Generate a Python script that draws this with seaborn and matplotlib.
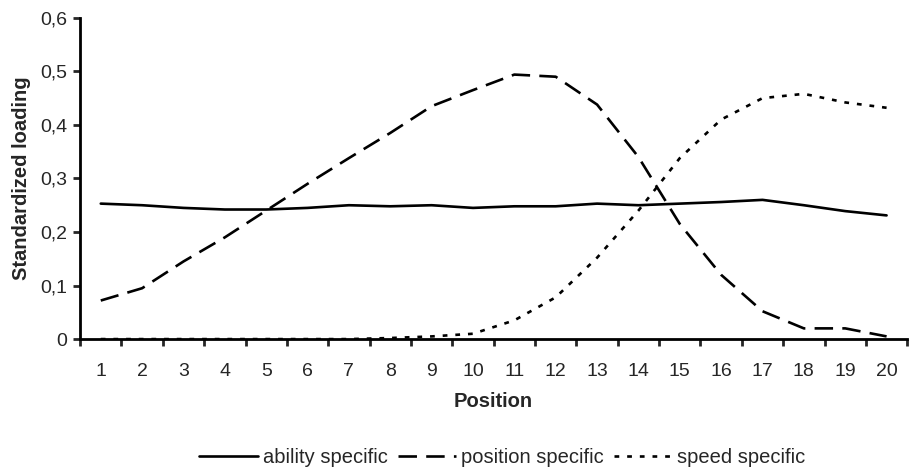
import numpy as np
import pandas as pd
import matplotlib
matplotlib.use('Agg')
import matplotlib.pyplot as plt
import seaborn as sns
from matplotlib.ticker import FuncFormatter, MultipleLocator

positions = list(range(1, 21))
ability = [0.253, 0.250, 0.245, 0.242, 0.242, 0.245, 0.250, 0.248, 0.250, 0.245,
           0.248, 0.248, 0.253, 0.250, 0.253, 0.256, 0.260, 0.250, 0.239, 0.231]
position_spec = [0.072, 0.095, 0.145, 0.190, 0.240, 0.290, 0.338, 0.385, 0.435, 0.465,
                 0.494, 0.490, 0.438, 0.340, 0.215, 0.120, 0.052, 0.020, 0.020, 0.005]
speed = [0.0, 0.0, 0.0, 0.0, 0.0, 0.0, 0.0, 0.002, 0.005, 0.010,
         0.035, 0.078, 0.152, 0.240, 0.338, 0.410, 0.450, 0.458, 0.442, 0.432]
series_names = ['ability specific', 'position specific', 'speed specific']

df = pd.DataFrame({
    'Position': positions * 3,
    'loading': ability + position_spec + speed,
    'series': [s for s in series_names for _ in positions],
})

sns.set_style('white')
plt.rcParams['font.family'] = ['Liberation Sans', 'DejaVu Sans']

fig = plt.figure(figsize=(9.1, 4.69), dpi=100)
ax = fig.add_axes([0.088, 0.277, 0.909, 0.685])

dashes = {'ability specific': '', 'position specific': (7, 3.5), 'speed specific': (1.8, 3)}
sns.lineplot(data=df, x='Position', y='loading', hue='series', style='series',
             palette=['black'] * 3, dashes=dashes, linewidth=1.9, ax=ax, legend=False)

ax.set_xlim(0.5, 20.5)
ax.set_ylim(0, 0.6)
ax.set_xticks(positions)
ax.set_xticks(np.arange(0.5, 21, 1), minor=True)
ax.tick_params(axis='x', which='major', length=0, pad=17, labelsize=14)
ax.tick_params(axis='x', which='minor', length=5, width=2, direction='out', bottom=True)
ax.yaxis.set_major_locator(MultipleLocator(0.1))
ax.yaxis.set_major_formatter(FuncFormatter(lambda v, p: '0' if abs(v) < 1e-9 else f'{v:.1f}'.replace('.', ',')))
ax.tick_params(axis='y', length=5, width=2, direction='out', left=True, labelsize=14, pad=4)

for side in ['top', 'right']:
    ax.spines[side].set_visible(False)
for side in ['left', 'bottom']:
    ax.spines[side].set_linewidth(2)
    ax.spines[side].set_color('black')

ax.set_xlabel('Position', fontsize=14.5, fontweight='bold', labelpad=9)
ax.set_ylabel('Standardized loading', fontsize=14.5, fontweight='bold', labelpad=7)

handles = ax.get_lines()[:3]
fig.legend(handles, series_names, loc='lower center', bbox_to_anchor=(0.552, -0.035), ncol=3,
           frameon=False, fontsize=14.5, handlelength=2.9, handletextpad=0.25, columnspacing=0.5)

fig.savefig('out.png', dpi=100)
